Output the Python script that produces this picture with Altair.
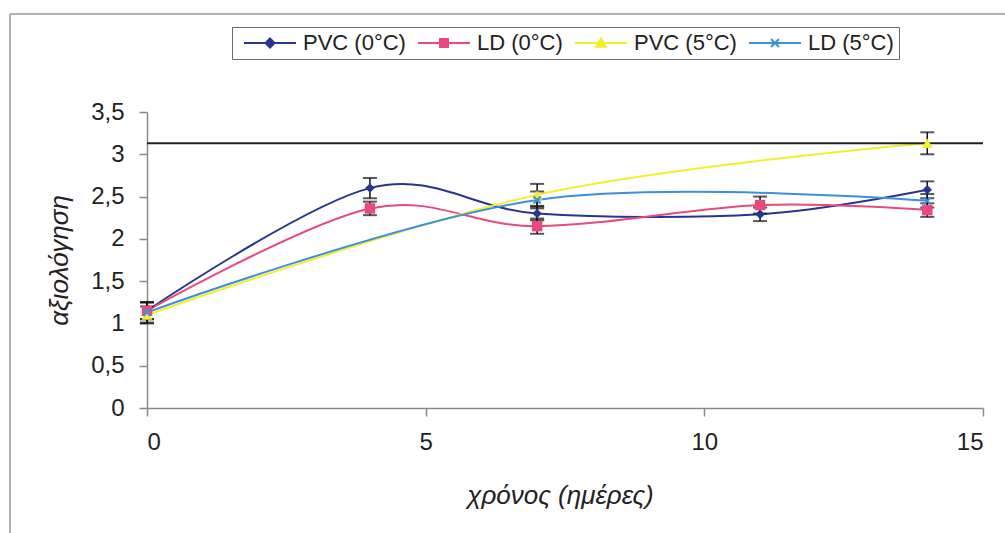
import altair as alt
import pandas as pd

# Series names and colours
SERIES = ["PVC (0°C)", "LD (0°C)", "PVC (5°C)", "LD (5°C)"]
COLORS = ["#27358F", "#E9497B", "#F3EF2B", "#3D8FE0"]

# Sampling days
days_0c = [0, 4, 7, 11, 14]
days_5c = [0, 7, 14]

# Mean scores and their standard deviations
pvc_0 = [1.15, 2.60, 2.30, 2.29, 2.58]
pvc_0_sd = [0.10, 0.12, 0.08, 0.08, 0.10]
ld_0 = [1.15, 2.36, 2.15, 2.40, 2.34]
ld_0_sd = [0.10, 0.08, 0.09, 0.10, 0.08]
pvc_5 = [1.10, 2.52, 3.13]
pvc_5_sd = [0.10, 0.13, 0.13]
ld_5 = [1.13, 2.46, 2.45]
ld_5_sd = [0.12, 0.10, 0.08]

# Acceptability limit
limit = [3.13]

# Axis tick values
x_ticks = [0, 5, 10, 15]
y_ticks = [0, 0.5, 1, 1.5, 2, 2.5, 3, 3.5]

rows = []
for name, days, vals, sds in [
    (SERIES[0], days_0c, pvc_0, pvc_0_sd),
    (SERIES[1], days_0c, ld_0, ld_0_sd),
    (SERIES[2], days_5c, pvc_5, pvc_5_sd),
    (SERIES[3], days_5c, ld_5, ld_5_sd),
]:
    for d, v, s in zip(days, vals, sds):
        rows.append({"series": name, "day": d, "value": v, "lo": v - s, "hi": v + s})
df = pd.DataFrame(rows)

FONT = "Liberation Sans"
TEXT = "#222222"
AXIS = "#8a8a8a"

# The view reaches up to the legend strip; the value scale uses its lower part
VIEW_W = 836
VIEW_H = 388
PLOT_TOP = 92

# Legend glyphs: a line segment (52 px) with the series marker in its middle
LEGEND_SHAPES = [
    "M-2.6,0H2.6M0,-0.45L0.45,0L0,0.45L-0.45,0Z",
    "M-2.6,0H2.6M-0.4,-0.4H0.4V0.4H-0.4Z",
    "M-2.6,0H2.6M0,-0.45L0.48,0.38H-0.48Z",
    "M-2.6,0H2.6M-0.4,-0.4L0.4,0.4M-0.4,0.4L0.4,-0.4",
]
legend = alt.Legend(
    title=None,
    orient="none",
    legendX=85,
    legendY=7,
    direction="horizontal",
    columns=4,
    columnPadding=5,
    padding=5,
    strokeColor="#6a6a6a",
    symbolSize=400,
    symbolOffset=22,
    symbolStrokeWidth=2,
    symbolOpacity=1,
    labelFont=FONT,
    labelFontSize=22,
    labelColor=TEXT,
    labelOffset=22,
)

x_enc = alt.X(
    "day:Q",
    scale=alt.Scale(domain=[0, 15], nice=False, zero=False),
    axis=alt.Axis(
        values=x_ticks,
        title="χρόνος (ημέρες)",
        titleX=413,
        titleY=95,
        titleBaseline="alphabetic",
        labelPadding=14,
    ),
)
y_enc = alt.Y(
    "value:Q",
    scale=alt.Scale(domain=[0, 3.5], nice=False, range=[VIEW_H, PLOT_TOP]),
    axis=alt.Axis(
        values=y_ticks,
        title="αξιολόγηση",
        titleX=-75,
        titleY=240,
        labelPadding=15,
        labelExpr="replace(toString(datum.value), '.', ',')",
    ),
)

base = alt.Chart(df)

lines = base.mark_line(interpolate="cardinal", strokeWidth=2).encode(
    x=x_enc,
    y=y_enc,
    color=alt.Color("series:N", scale=alt.Scale(domain=SERIES, range=COLORS), legend=legend),
)

limit_rule = (
    alt.Chart(pd.DataFrame({"limit": limit}))
    .mark_rule(color="#222222", strokeWidth=2)
    .encode(y="limit:Q", x=alt.value(0), x2=alt.value("width"))
)

err_rules = base.mark_rule(color="#111111", strokeWidth=1.5).encode(
    x="day:Q", y="lo:Q", y2="hi:Q"
)
err_lo = base.mark_tick(color="#111111", thickness=2, size=14, orient="horizontal").encode(
    x="day:Q", y="lo:Q"
)
err_hi = base.mark_tick(color="#111111", thickness=2, size=14, orient="horizontal").encode(
    x="day:Q", y="hi:Q"
)

X_PATH = "M-1,-1L1,1M-1,1L1,-1"
marker_specs = [
    (SERIES[0], dict(shape="diamond", filled=True, size=90, color=COLORS[0])),
    (SERIES[1], dict(shape="square", filled=True, size=110, color=COLORS[1])),
    (SERIES[2], dict(shape="triangle-up", filled=True, size=120, color=COLORS[2])),
    (SERIES[3], dict(shape=X_PATH, filled=False, size=50, color=COLORS[3], strokeWidth=2)),
]
markers = [
    base.transform_filter(alt.datum.series == name)
    .mark_point(opacity=1, **props)
    .encode(x="day:Q", y="value:Q")
    for name, props in marker_specs
]

# Zero-size points: they only carry the legend glyphs
legend_layer = base.mark_point(filled=True, size=0).encode(
    x="day:Q",
    y="value:Q",
    fill=alt.Fill("series:N", scale=alt.Scale(domain=SERIES, range=COLORS), legend=None),
    stroke=alt.Stroke("series:N", scale=alt.Scale(domain=SERIES, range=COLORS), legend=legend),
    shape=alt.Shape("series:N", scale=alt.Scale(domain=SERIES, range=LEGEND_SHAPES), legend=legend),
)

# Chart-area border (left and top edges)
frame_left = alt.Chart(pd.DataFrame({"k": [0]})).mark_rule(color="#9a9a9a", strokeWidth=1.5).encode(
    x=alt.value(-137), y=alt.value(-6), y2=alt.value(513)
)
frame_top = alt.Chart(pd.DataFrame({"k": [0]})).mark_rule(color="#9a9a9a", strokeWidth=1.5).encode(
    x=alt.value(-137), x2=alt.value(858), y=alt.value(-6)
)

chart = (
    alt.layer(
        frame_left,
        frame_top,
        lines,
        limit_rule,
        err_rules,
        err_lo,
        err_hi,
        *markers,
        legend_layer,
    )
    .properties(
        width=VIEW_W,
        height=VIEW_H,
        autosize=alt.AutoSizeParams(type="none"),
        padding={"left": 147, "top": 20, "right": 22, "bottom": 125},
    )
    .configure_view(stroke=None)
    .configure_axis(
        grid=False,
        domainColor=AXIS,
        domainWidth=1.5,
        tickColor=AXIS,
        tickWidth=1.5,
        tickSize=8,
        labelFont=FONT,
        labelFontSize=24,
        labelColor=TEXT,
        titleFont=FONT,
        titleFontSize=26,
        titleFontStyle="italic",
        titleFontWeight="normal",
        titleColor=TEXT,
    )
)

chart.save("out.html", embed_options={"renderer": "svg", "actions": False})
